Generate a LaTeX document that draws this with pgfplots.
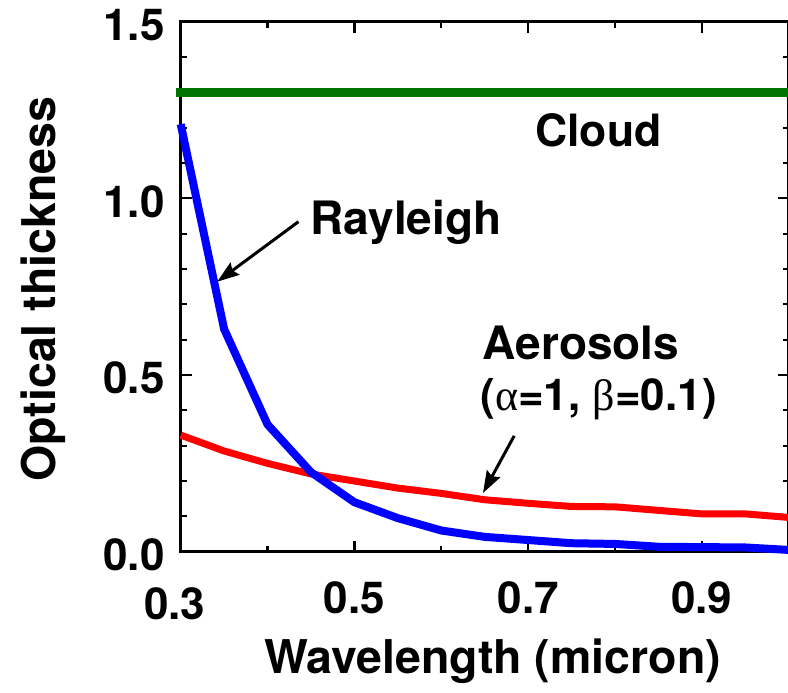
\documentclass[border=0pt]{standalone}
\usepackage{fontspec}
\setmainfont{TeX Gyre Heros}
\newfontfamily\greekfont{Liberation Serif}
\usepackage{pgfplots}
\pgfplotsset{compat=1.18}
\usetikzlibrary{arrows.meta}
\definecolor{cloudgreen}{RGB}{0,115,0}
\newcommand{\bigfont}{\fontsize{43bp}{50bp}\selectfont\bfseries}
\newcommand{\tickfont}{\fontsize{44bp}{50bp}\selectfont\bfseries}
\newcommand{\labfont}{\fontsize{46.5bp}{52bp}\selectfont\bfseries}
\newcommand{\annfont}{\fontsize{46bp}{52bp}\selectfont\bfseries}
\begin{document}
\begin{tikzpicture}
\begin{axis}[
  name=ax,
  scale only axis,
  width=608bp, height=530bp,
  xmin=0.3, xmax=1.0, ymin=0, ymax=1.5,
  clip=false,
  axis line style={line width=3bp},
  tick style={line width=2.2bp, black},
  tick align=inside,
  major tick length=11bp,
  minor tick length=6bp,
  xtick={0.5,0.7,0.9},
  extra x ticks={0.3},
  extra x tick style={tick label style={yshift=-6bp, xshift=-6bp}},
  minor xtick={0.4,0.6,0.8,1.0},
  ytick={0,0.5,1.0,1.5},
  minor y tick num=4,
  xtick pos=both, ytick pos=both,
  /pgf/number format/assume math mode=true,
  /pgf/number format/.cd, fixed, fixed zerofill, precision=1, /pgfplots/.cd,
  tick label style={font=\tickfont, inner sep=0pt},
  xticklabel style={yshift=-30bp},
  yticklabel style={xshift=-16bp, yshift=-3bp},
  xlabel={Wavelength (micron)},
  ylabel={Optical thickness},
  label style={font=\labfont},
  xlabel style={at={(axis description cs:0.513,-0.229)}, anchor=base, inner sep=0pt},
  ylabel style={at={(axis description cs:-0.2257,0.4957)}, anchor=center, rotate=0, inner sep=0pt},
]
\addplot[cloudgreen, line width=9bp, line cap=rect] coordinates {(0.3,1.3) (1.0,1.3)};
\addplot[red, line width=7bp, line join=round] coordinates {
(0.30,0.33) (0.35,0.285) (0.40,0.25) (0.45,0.22) (0.50,0.20) (0.55,0.18)
(0.60,0.165) (0.65,0.147) (0.70,0.137) (0.75,0.128) (0.80,0.127) (0.85,0.117)
(0.90,0.107) (0.95,0.107) (1.00,0.097)};
\addplot[blue, line width=8bp, line join=round] coordinates {
(0.30,1.21) (0.35,0.63) (0.40,0.36) (0.45,0.225) (0.50,0.14) (0.55,0.095)
(0.60,0.06) (0.65,0.042) (0.70,0.033) (0.75,0.024) (0.80,0.022) (0.85,0.014)
(0.90,0.013) (0.95,0.012) (1.00,0.005)};
\draw[line width=3bp, -{Stealth[length=22bp,width=15bp,inset=3bp]}] (axis cs:0.4356,0.934) -- (axis cs:0.342,0.764);
\draw[line width=3bp, -{Stealth[length=22bp,width=15bp,inset=3bp]}] (axis cs:0.684,0.328) -- (axis cs:0.648,0.166);
\node[font=\fontsize{44.5bp}{50bp}\selectfont\bfseries, inner sep=0pt] at (axis cs:0.781,1.194) {Cloud};
\node[font=\annfont, inner sep=0pt, anchor=base west] at (axis cs:0.4493,0.897) {Rayleigh};
\node[font=\annfont, inner sep=0pt, anchor=base west] at (axis cs:0.6476,0.543) {Aerosols};
\node[font=\fontsize{44bp}{50bp}\selectfont\bfseries, inner sep=0pt, anchor=base west] at (axis cs:0.6450,0.401) {({\mdseries\greekfont α}=1, {\mdseries\greekfont β}=0.1)};
\end{axis}
\pgfresetboundingbox
\path ([xshift=-180.7bp,yshift=-141.3bp]ax.south west) rectangle ([xshift=607.3bp,yshift=551.7bp]ax.south west);
\end{tikzpicture}
\end{document}
